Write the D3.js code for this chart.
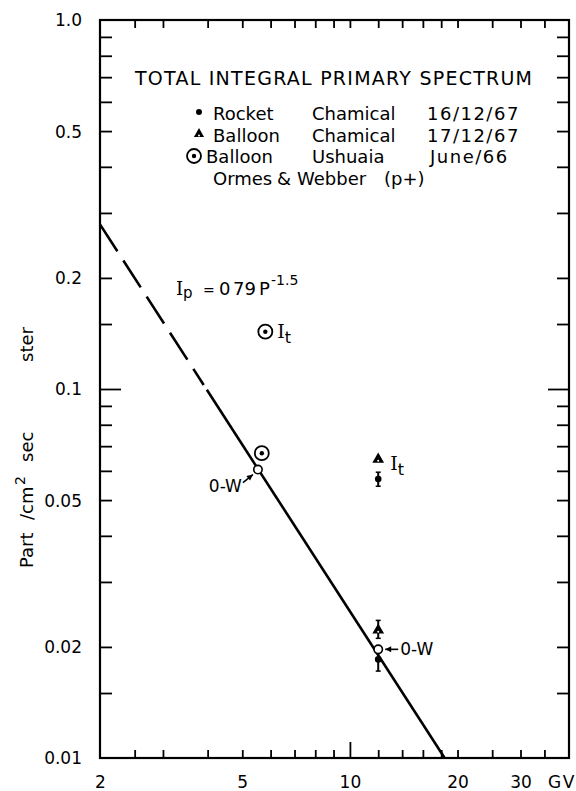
<!DOCTYPE html>
<meta charset="utf-8">
<style>
  body { margin: 0; background: white; }
  text { font-family: "DejaVu Sans", sans-serif; fill: black; }
  .serif { font-family: "DejaVu Serif", serif; }
</style>
<body>
<script src="https://d3js.org/d3.v7.min.js"></script>
<script>
// ---- data ----
var xMinorTicks = [2.5, 3, 4, 5, 6, 7, 8, 9, 12, 14, 16, 18, 20, 25, 30, 35];
var xMajorTicks = [10];
var xLabels = [2, 5, 10, 20, 30];

var yMinorTicks = [0.9, 0.8, 0.7, 0.6, 0.5, 0.4, 0.3, 0.2, 0.15, 0.09, 0.08, 0.07, 0.06, 0.05, 0.04, 0.03, 0.02, 0.015];
var yMajorTicks = [0.1];
var yLabels = [1.0, 0.5, 0.2, 0.1, 0.05, 0.02, 0.01];
var yLabelText = ["1.0", "0.5", "0.2", "0.1", "0.05", "0.02", "0.01"];

// I_p = 0.79 P^-1.5 (fit drawn on the figure)
var fitCoef = 0.79, fitIndex = -1.5;
var fitDashed = [2, 3.9];
var fitSolid = [3.98, 18.37];

// rigidity (GV), flux, error range
var rocket = [
  {p: 12, v: 0.057, lo: 0.0545, hi: 0.0595},
  {p: 12, v: 0.0185, lo: 0.0172, hi: 0.0198}
];
var balloonCh = [
  {p: 12, v: 0.0645},
  {p: 12, v: 0.0222, lo: 0.0211, hi: 0.0236}
];
var ushuaia = [
  {p: 5.8, v: 0.143},
  {p: 5.67, v: 0.067}
];
var ormesWebber = [
  {p: 5.53, v: 0.0605},
  {p: 12, v: 0.0197}
];

var width = 576, height = 791;

var svg = d3.select("body").append("svg")
    .attr("width", width)
    .attr("height", height);

var x = d3.scaleLog().domain([2, 41]).range([100, 569]);
var y = d3.scaleLog().domain([0.01, 1]).range([758, 20]);

var plotL = x.range()[0], plotR = x.range()[1];
var plotT = y.range()[1], plotB = y.range()[0];

// ticks (inward) on all four sides
function tickAxis(axis, vals, size, tx, ty) {
  var g = svg.append("g")
      .attr("transform", "translate(" + tx + "," + ty + ")")
      .call(axis.tickValues(vals).tickSize(size).tickFormat(""));
  g.select(".domain").remove();
  g.selectAll(".tick line").attr("stroke", "black").attr("stroke-width", 1.8);
}
tickAxis(d3.axisBottom(x), xMinorTicks, -8, 0, plotB);
tickAxis(d3.axisBottom(x), xMajorTicks, -16, 0, plotB);
tickAxis(d3.axisTop(x), xMinorTicks, -8, 0, plotT);
tickAxis(d3.axisTop(x), xMajorTicks, -8, 0, plotT);
tickAxis(d3.axisLeft(y), yMinorTicks, -12, plotL, 0);
tickAxis(d3.axisLeft(y), yMajorTicks, -21, plotL, 0);
tickAxis(d3.axisRight(y), yMinorTicks, -12, plotR, 0);
tickAxis(d3.axisRight(y), yMajorTicks, -21, plotR, 0);

// frame
svg.append("rect")
    .attr("x", plotL).attr("y", plotT)
    .attr("width", plotR - plotL).attr("height", plotB - plotT)
    .attr("fill", "none").attr("stroke", "black").attr("stroke-width", 2.2);

// tick labels
var yl = svg.append("g")
    .attr("transform", "translate(" + plotL + ",0)")
    .call(d3.axisLeft(y).tickValues(yLabels).tickSize(0).tickPadding(18)
      .tickFormat(function(d, i) { return yLabelText[i]; }));
yl.select(".domain").remove();
yl.selectAll("text").attr("font-family", "DejaVu Sans").attr("font-size", 17).attr("dy", "0.35em");

var xl = svg.append("g")
    .attr("transform", "translate(0," + plotB + ")")
    .call(d3.axisBottom(x).tickValues(xLabels).tickSize(0)
      .tickFormat(d3.format("d")));
xl.select(".domain").remove();
xl.selectAll("text").attr("font-family", "DejaVu Sans").attr("font-size", 17)
    .attr("dy", null).attr("y", 30);

svg.append("text")
    .attr("x", 548).attr("y", 788)
    .attr("font-size", 17)
    .attr("letter-spacing", 1.5)
    .text("GV");

// y title
var yt = svg.append("text")
    .attr("transform", "rotate(-90)")
    .attr("y", 33)
    .attr("font-size", 18);
yt.append("tspan").attr("x", -568).text("Part");
yt.append("tspan").attr("x", -520).text("/cm");
yt.append("tspan").attr("x", -485).attr("dy", -8).attr("font-size", 14).text("2");
yt.append("tspan").attr("x", -462).attr("dy", 8).text("sec");
yt.append("tspan").attr("x", -362).text("ster");

// fit line
var fit = d3.line()
    .x(function(p) { return x(p); })
    .y(function(p) { return y(fitCoef * Math.pow(p, fitIndex)); });

svg.append("path")
    .attr("d", fit(fitDashed))
    .attr("fill", "none").attr("stroke", "black").attr("stroke-width", 2.6)
    .attr("stroke-dasharray", "32,11");
svg.append("path")
    .attr("d", fit(fitSolid))
    .attr("fill", "none").attr("stroke", "black").attr("stroke-width", 2.6);

// marker helpers
function drawErr(d) {
  if (d.lo == null) return;
  svg.append("line")
      .attr("x1", x(d.p)).attr("x2", x(d.p))
      .attr("y1", y(d.lo)).attr("y2", y(d.hi))
      .attr("stroke", "black").attr("stroke-width", 2);
  [d.lo, d.hi].forEach(function(v) {
    svg.append("line")
        .attr("x1", x(d.p) - 2.5).attr("x2", x(d.p) + 2.5)
        .attr("y1", y(v)).attr("y2", y(v))
        .attr("stroke", "black").attr("stroke-width", 1.5);
  });
}
function dot(cx, cy, r) {
  svg.append("circle").attr("cx", cx).attr("cy", cy).attr("r", r || 3).attr("fill", "black");
}
function triangle(cx, cy, size) {
  svg.append("path").attr("d", d3.symbol().type(d3.symbolTriangle).size(size || 45)())
      .attr("transform", "translate(" + cx + "," + cy + ")")
      .attr("fill", "black");
  svg.append("circle").attr("cx", cx).attr("cy", cy + 1.5).attr("r", 1).attr("fill", "white");
}
function circleDot(cx, cy) {
  svg.append("circle").attr("cx", cx).attr("cy", cy).attr("r", 7)
      .attr("fill", "white").attr("stroke", "black").attr("stroke-width", 1.8);
  svg.append("circle").attr("cx", cx).attr("cy", cy).attr("r", 2.2).attr("fill", "black");
}
function openCircle(cx, cy) {
  svg.append("circle").attr("cx", cx).attr("cy", cy).attr("r", 4.2)
      .attr("fill", "white").attr("stroke", "black").attr("stroke-width", 1.6);
}

rocket.forEach(drawErr);
balloonCh.forEach(drawErr);
rocket.forEach(function(d) { dot(x(d.p), y(d.v), 3.3); });
balloonCh.forEach(function(d) { triangle(x(d.p), y(d.v), 60); });
ushuaia.forEach(function(d) { circleDot(x(d.p), y(d.v)); });
ormesWebber.forEach(function(d) { openCircle(x(d.p), y(d.v)); });

// arrows for O-W labels
function arrow(x1, y1, x2, y2) {
  svg.append("line").attr("x1", x1).attr("y1", y1).attr("x2", x2).attr("y2", y2)
      .attr("stroke", "black").attr("stroke-width", 1.6);
  var a = Math.atan2(y2 - y1, x2 - x1), L = 6, w = 3;
  var bx = x2 - L * Math.cos(a), by = y2 - L * Math.sin(a);
  svg.append("path")
      .attr("d", "M" + x2 + "," + y2 +
        "L" + (bx + w * Math.sin(a)) + "," + (by - w * Math.cos(a)) +
        "L" + (bx - w * Math.sin(a)) + "," + (by + w * Math.cos(a)) + "Z")
      .attr("fill", "black");
}
var ow1 = {x: x(ormesWebber[0].p), y: y(ormesWebber[0].v)};
arrow(ow1.x - 15, ow1.y + 13, ow1.x - 5, ow1.y + 5);
svg.append("text").attr("x", ow1.x - 16).attr("y", ow1.y + 22)
    .attr("text-anchor", "end").attr("font-size", 17).text("0-W");

var ow2 = {x: x(ormesWebber[1].p), y: y(ormesWebber[1].v)};
arrow(ow2.x + 20, ow2.y, ow2.x + 7, ow2.y);
svg.append("text").attr("x", ow2.x + 22).attr("y", ow2.y + 6)
    .attr("font-size", 17).text("0-W");

// I_t labels
function itLabel(px, py) {
  var t = svg.append("text").attr("x", px).attr("y", py).attr("font-size", 19);
  t.append("tspan").attr("class", "serif").text("I");
  t.append("tspan").attr("dy", 5).attr("font-size", 16).text("t");
}
itLabel(x(ushuaia[0].p) + 12, y(ushuaia[0].v) + 6);
itLabel(x(balloonCh[0].p) + 12, y(balloonCh[0].v) + 11);

// equation
var eq = svg.append("text").attr("y", 295).attr("font-size", 18);
eq.append("tspan").attr("class", "serif").attr("x", 176).text("I");
eq.append("tspan").attr("x", 183).attr("dy", 3).attr("font-size", 15).text("p");
eq.append("tspan").attr("x", 203).attr("dy", -3).attr("font-size", 14).text("=");
eq.append("tspan").attr("x", 219).attr("font-size", 18).text("0");
eq.append("tspan").attr("x", 233).text("79");
eq.append("tspan").attr("x", 259).text("P");
eq.append("tspan").attr("x", 271).attr("dy", -10).attr("font-size", 14).text("-1.5");

// legend
svg.append("text")
    .attr("x", 135).attr("y", 85)
    .attr("font-size", 19)
    .attr("textLength", 397).attr("lengthAdjust", "spacing")
    .text("TOTAL INTEGRAL PRIMARY SPECTRUM");

var legendRows = [
  {sym: "dot", name: "Rocket", nx: 213, place: "Chamical", date: "16/12/67", dx: 427, base: 120},
  {sym: "tri", name: "Balloon", nx: 213, place: "Chamical", date: "17/12/67", dx: 427, base: 142},
  {sym: "circ", name: "Balloon", nx: 206, place: "Ushuaia", date: "June/66", dx: 430, base: 163}
];
legendRows.forEach(function(r) {
  var cy = r.base - 7;
  if (r.sym === "dot") dot(199, cy - 1);
  if (r.sym === "tri") triangle(199, cy - 1);
  if (r.sym === "circ") circleDot(194, cy);
  svg.append("text").attr("x", r.nx).attr("y", r.base).attr("font-size", 18).text(r.name);
  svg.append("text").attr("x", 312).attr("y", r.base).attr("font-size", 18).text(r.place);
  svg.append("text").attr("x", r.dx).attr("y", r.base).attr("font-size", 18)
      .attr("letter-spacing", 1.5).text(r.date);
});
var ow = svg.append("text").attr("y", 185).attr("font-size", 18);
ow.append("tspan").attr("x", 213).text("Ormes");
ow.append("tspan").attr("x", 277).text("&");
ow.append("tspan").attr("x", 297).text("Webber");
ow.append("tspan").attr("x", 384).text("(p+)");
</script>
</body>
